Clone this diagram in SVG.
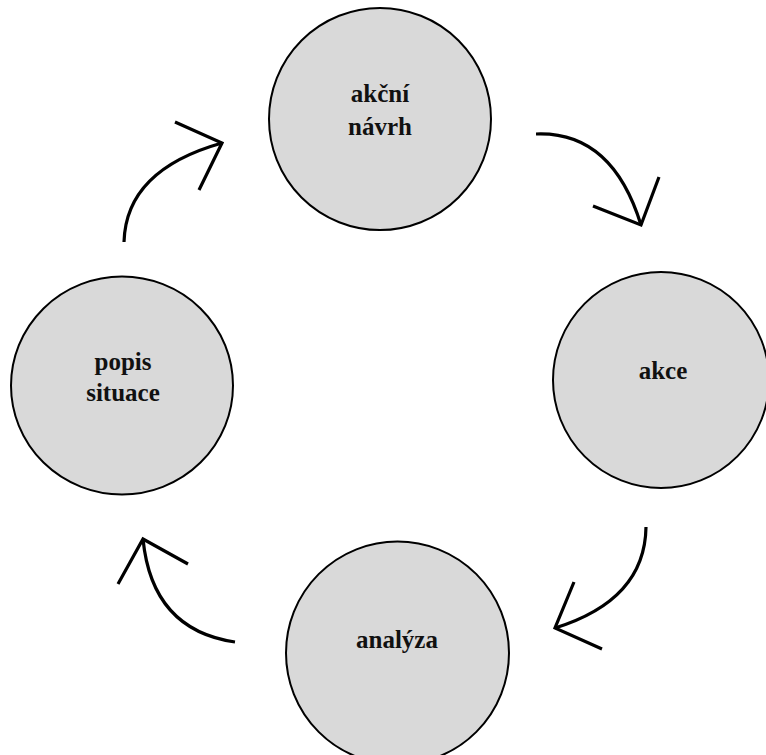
<svg xmlns="http://www.w3.org/2000/svg" width="766" height="755" viewBox="0 0 766 755">
<style>
.node{fill:#d9d9d9;stroke:#000;stroke-width:2}
.lbl{font-family:"Liberation Serif","Times New Roman",serif;font-weight:bold;font-size:25px;fill:#111;text-anchor:middle}
.arr{fill:none;stroke:#000;stroke-width:3.2;stroke-linecap:butt;stroke-linejoin:miter}
</style>
<rect width="766" height="755" fill="#fff"/>
<g id="node-akcni-navrh">
<circle class="node" cx="380" cy="119" r="111"/>
<text class="lbl" x="380" y="102">akční</text>
<text class="lbl" x="380" y="135">návrh</text>
</g>
<g id="node-akce">
<circle class="node" cx="661" cy="380" r="108"/>
<text class="lbl" x="663" y="379">akce</text>
</g>
<g id="node-analyza">
<circle class="node" cx="397.5" cy="653" r="111.5"/>
<text class="lbl" x="397" y="648">analýza</text>
</g>
<g id="node-popis-situace">
<ellipse class="node" cx="122" cy="385.5" rx="111" ry="109"/>
<text class="lbl" x="123" y="370">popis</text>
<text class="lbl" x="123" y="401">situace</text>
</g>
<g id="connectors">
<path class="arr" d="M124,242 Q126,170 222,143"/>
<polyline class="arr" points="175,122 222,143 199,190"/>
<path class="arr" d="M536,134 Q612,131 641,225"/>
<polyline class="arr" points="593,206 641,225 659,177"/>
<path class="arr" d="M646,527 Q645,600 555,628"/>
<polyline class="arr" points="574,582 555,628 602,649"/>
<path class="arr" d="M235,642 Q152,630 143,539"/>
<polyline class="arr" points="118,584 143,539 188,564"/>
</g>
</svg>
